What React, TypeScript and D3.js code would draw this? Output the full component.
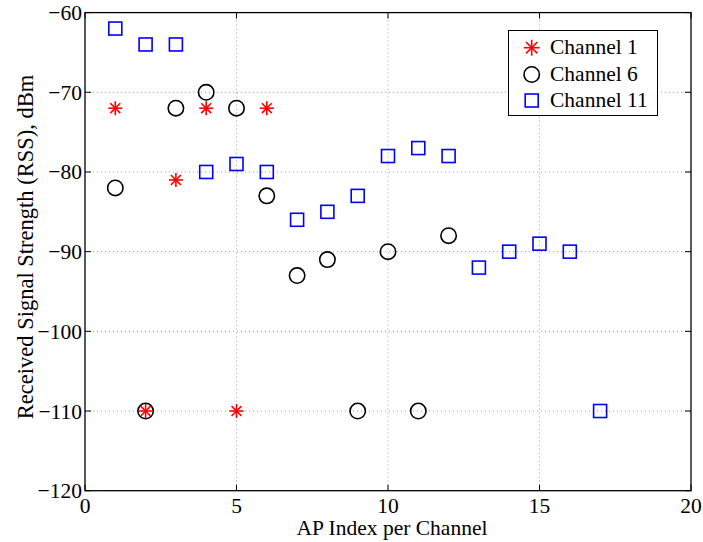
import React from "react";
import * as d3 from "d3";

// AP index per channel and received signal strength (dBm)
const ch1X = [1, 2, 3, 4, 5, 6];
const ch1Y = [-72, -110, -81, -72, -110, -72];
const ch6X = [1, 2, 3, 4, 5, 6, 7, 8, 9, 10, 11, 12];
const ch6Y = [-82, -110, -72, -70, -72, -83, -93, -91, -110, -90, -110, -88];
const ch11X = [1, 2, 3, 4, 5, 6, 7, 8, 9, 10, 11, 12, 13, 14, 15, 16, 17];
const ch11Y = [-62, -64, -64, -80, -79, -80, -86, -85, -83, -78, -77, -78, -92, -90, -89, -90, -110];

const xTicks = [0, 5, 10, 15, 20];
const yTicks = [-60, -70, -80, -90, -100, -110, -120];
const legendLabels = ["Channel 1", "Channel 6", "Channel 11"];

const W = 703;
const H = 542;
const left = 85;
const right = 691;
const top = 12.6;
const bottom = 490.7;
const FONT = "Liberation Serif";
const txt = { fontFamily: FONT, fontSize: 21.5 };

const Star = ({ cx, cy, r = 7 }: { cx: number; cy: number; r?: number }) => {
  const d = r * Math.SQRT1_2;
  return (
    <g stroke="#ff0000" strokeWidth={1.6}>
      <line x1={cx - r} y1={cy} x2={cx + r} y2={cy} />
      <line x1={cx} y1={cy - r} x2={cx} y2={cy + r} />
      <line x1={cx - d} y1={cy - d} x2={cx + d} y2={cy + d} />
      <line x1={cx - d} y1={cy + d} x2={cx + d} y2={cy - d} />
    </g>
  );
};

const Circ = ({ cx, cy }: { cx: number; cy: number }) => (
  <circle cx={cx} cy={cy} r={7.7} fill="none" stroke="#000" strokeWidth={1.6} />
);

const Sq = ({ cx, cy }: { cx: number; cy: number }) => (
  <rect x={cx - 6.5} y={cy - 6.5} width={13} height={13} fill="none" stroke="#0000ff" strokeWidth={1.6} />
);

export default function App() {
  const x = d3.scaleLinear().domain([0, 20]).range([left, right]);
  const y = d3.scaleLinear().domain([-120, -60]).range([bottom, top]);
  const tl = 6;
  const fmt = (v: number) => (v < 0 ? "\u2212" + Math.abs(v) : String(v));

  const lgX = 508.5, lgY = 30.5, lgW = 149, lgH = 85;
  const rowY = [47.7, 74.5, 100.5];

  return (
    <svg width={W} height={H} style={{ position: "absolute", left: 0, top: 0, background: "#fff" }}>
      <rect width={W} height={H} fill="#fff" />
      {/* grid */}
      <g stroke="#808080" strokeWidth={0.8} strokeDasharray="1,3">
        {xTicks.slice(1, -1).map((t) => (
          <line key={"gx" + t} x1={x(t)} x2={x(t)} y1={top} y2={bottom} />
        ))}
        {yTicks.slice(1, -1).map((t) => (
          <line key={"gy" + t} x1={left} x2={right} y1={y(t)} y2={y(t)} />
        ))}
      </g>
      {/* ticks on all sides */}
      <g stroke="#000" strokeWidth={1}>
        {xTicks.map((t) => (
          <g key={"tx" + t}>
            <line x1={x(t)} x2={x(t)} y1={bottom} y2={bottom - tl} />
            <line x1={x(t)} x2={x(t)} y1={top} y2={top + tl} />
          </g>
        ))}
        {yTicks.map((t) => (
          <g key={"ty" + t}>
            <line x1={left} x2={left + tl} y1={y(t)} y2={y(t)} />
            <line x1={right} x2={right - tl} y1={y(t)} y2={y(t)} />
          </g>
        ))}
      </g>
      {/* data */}
      {ch11X.map((v, i) => (
        <Sq key={"s" + i} cx={x(v)} cy={y(ch11Y[i])} />
      ))}
      {ch6X.map((v, i) => (
        <Circ key={"c" + i} cx={x(v)} cy={y(ch6Y[i])} />
      ))}
      {ch1X.map((v, i) => (
        <Star key={"a" + i} cx={x(v)} cy={y(ch1Y[i])} />
      ))}
      {/* axes box */}
      <rect x={left} y={top} width={right - left} height={bottom - top} fill="none" stroke="#000" strokeWidth={1.3} />
      {/* tick labels */}
      {xTicks.map((t) => (
        <text key={"lx" + t} x={x(t)} y={513} textAnchor="middle" style={txt}>
          {fmt(t)}
        </text>
      ))}
      {yTicks.map((t) => (
        <text key={"ly" + t} x={82} y={y(t) + 7.5} textAnchor="end" style={txt}>
          {fmt(t)}
        </text>
      ))}
      <text x={392} y={535} textAnchor="middle" style={txt}>
        AP Index per Channel
      </text>
      <text transform={`translate(33, 247) rotate(-90)`} textAnchor="middle" style={{ fontFamily: FONT, fontSize: 22.5 }}>
        Received Signal Strength (RSS), dBm
      </text>
      {/* legend */}
      <rect x={lgX} y={lgY} width={lgW} height={lgH} fill="#fff" stroke="#000" strokeWidth={1} />
      <Star cx={531.7} cy={rowY[0]} r={8} />
      <Circ cx={531.7} cy={rowY[1]} />
      <Sq cx={531.7} cy={rowY[2]} />
      {legendLabels.map((l, i) => (
        <text key={l} x={550} y={rowY[i] + 6} style={txt}>
          {l}
        </text>
      ))}
    </svg>
  );
}
